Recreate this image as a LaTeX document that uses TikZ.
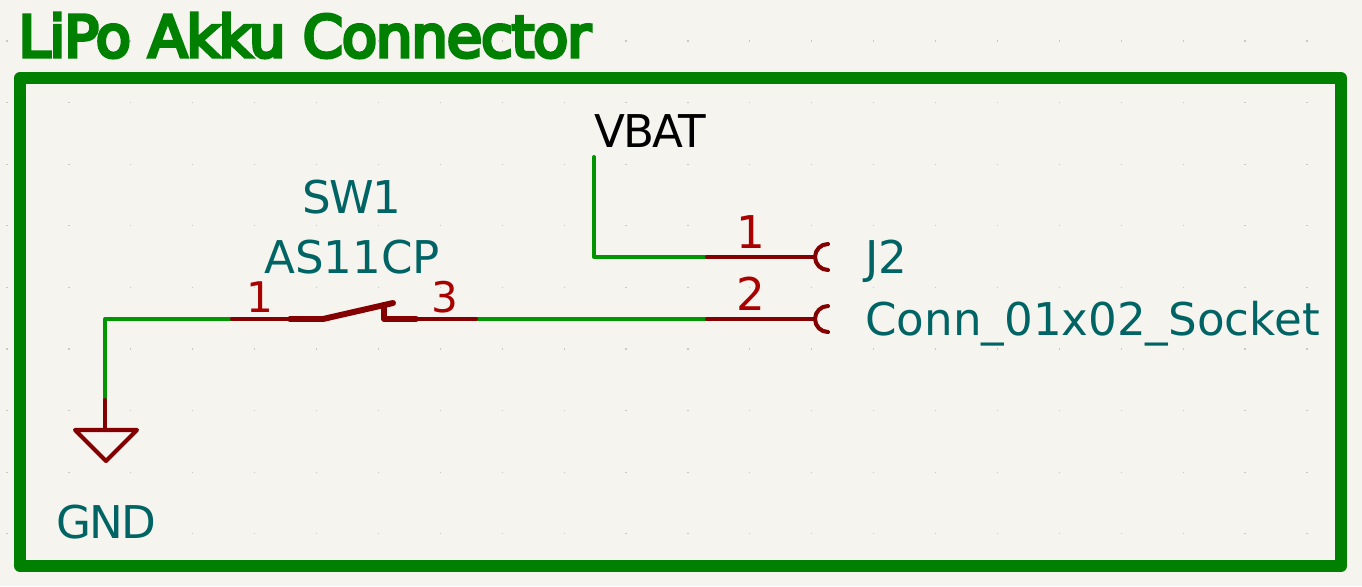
\documentclass[tikz,border=0pt]{standalone}
\usepackage{fontspec}
\usepackage{xcolor}
\setmainfont{DejaVu Sans}
\newfontfamily\reffont{DejaVu Sans}
\newfontfamily\capsfont[LetterSpace=-4]{DejaVu Sans}
\newfontfamily\titlefont[FakeBold=6,LetterSpace=-2]{DejaVu Sans}
\definecolor{sheetbg}{RGB}{245,244,239}
\definecolor{griddot}{RGB}{200,200,198}
\definecolor{framegreen}{RGB}{0,128,0}
\definecolor{wiregreen}{RGB}{0,150,0}
\definecolor{pinred}{RGB}{132,0,0}
\definecolor{numred}{RGB}{169,0,0}
\definecolor{refteal}{RGB}{0,100,100}
\tikzset{
  wire/.style={draw=wiregreen, line width=2.3pt, line cap=round, line join=round},
  pin/.style={draw=pinred, line width=2.3pt, line cap=round, line join=round},
  body/.style={draw=pinred, line width=3.4pt, line cap=round, line join=round},
  ref/.style={text=refteal, inner sep=0pt, font=\reffont\fontsize{25.7}{26}\selectfont},
  capsref/.style={ref, font=\capsfont\fontsize{25.7}{26}\selectfont},
  num/.style={text=numred, inner sep=0pt, anchor=base, font=\reffont\fontsize{24}{26}\selectfont}
}
\begin{document}
\begin{tikzpicture}[x=0.02cm, y=-0.02cm]
    \fill[sheetbg] (0,0) rectangle (1362,586);
    \useasboundingbox (0,0) rectangle (1362,586);
    % grid
    \foreach \i in {0,...,21}
        \foreach \j in {0,...,8}
            \fill[griddot] ({7+61.9*\i-0.6},{41+61.6*\j-0.6}) rectangle ++(1.2,1.2);
    % frame and title
    \draw[framegreen, line width=6.8pt, line join=round] (20,78) rectangle (1341,566);
    \node[anchor=base west, inner sep=0pt, text=framegreen, font=\titlefont\fontsize{32.8}{34}\selectfont] (title) at (18,57) {LiPo Akku Connector};
    % points
    \coordinate (vbatend) at (594,157);
    \coordinate (vbatcorner) at (594,257);
    \coordinate (gndcorner) at (105,319);
    \coordinate (gndpin) at (105,400);
    \coordinate (gndtop) at (105,430);
    \coordinate (gndleft) at (75,430);
    \coordinate (gndright) at (137,430);
    \coordinate (gndtip) at (106,461);
    \coordinate (swa) at (232,319);
    \coordinate (swb) at (290,319);
    \coordinate (swc) at (323,319);
    \coordinate (swtip) at (393,303);
    \coordinate (swpost) at (384,305);
    \coordinate (swd) at (384,319);
    \coordinate (swe) at (416,319);
    \coordinate (swf) at (476,319);
    \coordinate (ja) at (707,257);
    \coordinate (jb) at (707,319);
    \coordinate (jaend) at (815,257);
    \coordinate (jbend) at (815,319);
    % wires
    \draw[wire] (vbatend) -- (vbatcorner) -- (ja);
    \draw[wire] (swa) -- (gndcorner) -- (gndpin);
    \draw[wire] (swf) -- (jb);
    % connector pins
    \draw[pin] (ja) -- (jaend);
    \draw[pin] (jb) -- (jbend);
    \draw[pin] (828,270) arc (90:270:13);
    \draw[pin] (828,332) arc (90:270:13);
    % switch
    \draw[pin] (swa) -- (swb);
    \draw[body] (swb) -- (swc) -- (swtip);
    \draw[body] (swpost) -- (swd) -- (swe);
    \draw[pin] (swe) -- (swf);
    % ground
    \draw[pin] (gndpin) -- (gndtop);
    \draw[pin] (gndleft) -- (gndright) -- (gndtip) -- cycle;
    % labels
    \node[capsref, anchor=base] (swref) at (352,213) {SW1};
    \node[ref, anchor=base] (swval) at (352,273) {AS11CP};
    \node[ref, anchor=base west] (jref) at (865,273) {J2};
    \node[ref, anchor=base west] (jval) at (865,335) {Conn\_01x02\_Socket};
    \node[capsref, anchor=base] (gndlabel) at (106,538) {GND};
    \node[capsref, anchor=base, text=black] (vbatlabel) at (650,147) {VBAT};
    \node[num] (swnuma) at (260,312) {1};
    \node[num] (swnumb) at (445,312) {3};
    \node[num, font=\reffont\fontsize{25.7}{26}\selectfont] (jnuma) at (751,248) {1};
    \node[num, font=\reffont\fontsize{25.7}{26}\selectfont] (jnumb) at (751,310) {2};
\end{tikzpicture}
\end{document}
